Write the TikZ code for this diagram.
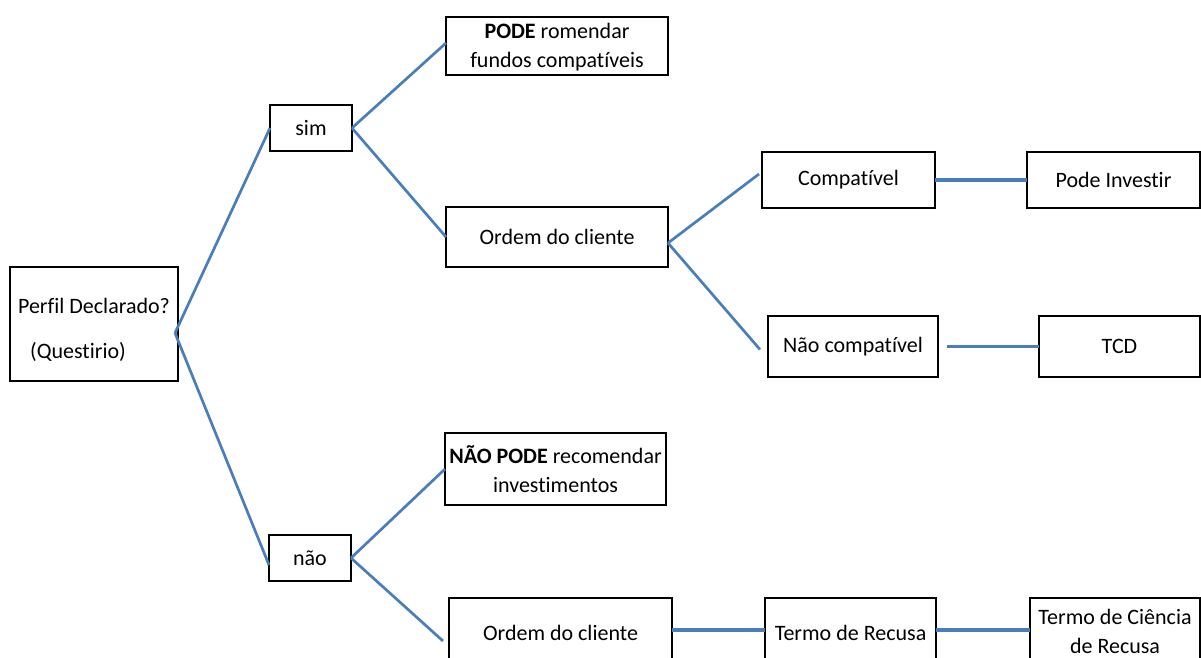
\documentclass[tikz,border=0pt]{standalone}
\usepackage{fontspec}
\setmainfont{Carlito}[Ligatures=NoCommon]
\usetikzlibrary{positioning}
\definecolor{linkblue}{RGB}{74,126,187}

\begin{document}
\begin{tikzpicture}[x=1pt, y=-1pt,
  box/.style={draw, line width=1.8pt, align=center, anchor=north west,
              inner sep=1pt, outer sep=0pt,
              font=\fontsize{22}{29}\selectfont},
  link/.style={draw=linkblue, line width=2.7pt},
  bar/.style={draw=linkblue, line width=4pt}]
\useasboundingbox (0,0) rectangle (1201,658);
% first level
\node[box, align=left, minimum width=168, minimum height=114] (perfil) at (10,267)
  {\rule{0pt}{27pt}Perfil Declarado?\\[16pt]\hspace*{12pt}(Questirio)};
\node[box, minimum width=82, minimum height=46] (sim) at (270,105) {sim};
\node[box, minimum width=82, minimum height=46] (nao) at (269,535) {não};
% sim branch
\node[box, minimum width=222, minimum height=58] (pode) at (446,17)
  {\rule{0pt}{18pt}\textbf{PODE} romendar\\fundos compatíveis};
\node[box, minimum width=222, minimum height=60] (ordemA) at (446,207) {Ordem do cliente};
\node[box, minimum width=173, minimum height=56] (compat) at (762,152) {Compatível};
\node[box, minimum width=173, minimum height=56] (investir) at (1027,152) {Pode Investir};
\node[box, minimum width=170, minimum height=61] (naocompat) at (768,316) {Não compatível};
\node[box, minimum width=161, minimum height=61] (tcd) at (1039,316) {TCD};
% nao branch
\node[box, minimum width=221, minimum height=72] (naopode) at (445,433)
  {\textbf{NÃO PODE} recomendar\\investimentos};
\node[box, minimum width=223, minimum height=70] (ordemB) at (449,598) {Ordem do cliente};
\node[box, minimum width=171, minimum height=70] (recusa) at (765,598) {Termo de Recusa};
\node[box, minimum width=170, minimum height=66] (ciencia) at (1030,598)
  {Termo de Ciência\\de Recusa};
% connectors
\draw[link] ([shift={(-3pt,-9pt)}]perfil.east) -- (sim.west);
\draw[link] ([shift={(-3pt,-9pt)}]perfil.east) -- ([yshift=-7pt]nao.west);
\draw[link] (sim.east) -- ([yshift=3pt]pode.west);
\draw[link] (sim.east) -- (ordemA.west);
\draw[link] ([yshift=-6pt]ordemA.east) -- ([shift={(-3pt,6pt)}]compat.west);
\draw[link] ([yshift=-6pt]ordemA.east) -- ([shift={(-8pt,-3pt)}]naocompat.west);
\draw[bar] (compat.east) -- (investir.west);
\draw[link, line width=3pt] ([xshift=9pt]naocompat.east) -- (tcd.west);
\draw[link] (nao.east) -- (naopode.west);
\draw[link] (nao.east) -- ([shift={(-6pt,-8pt)}]ordemB.west);
\draw[bar] ([yshift=3pt]ordemB.east) -- ([yshift=3pt]recusa.west);
\draw[bar] ([yshift=3pt]recusa.east) -- ([yshift=1pt]ciencia.west);
\end{tikzpicture}
\end{document}
